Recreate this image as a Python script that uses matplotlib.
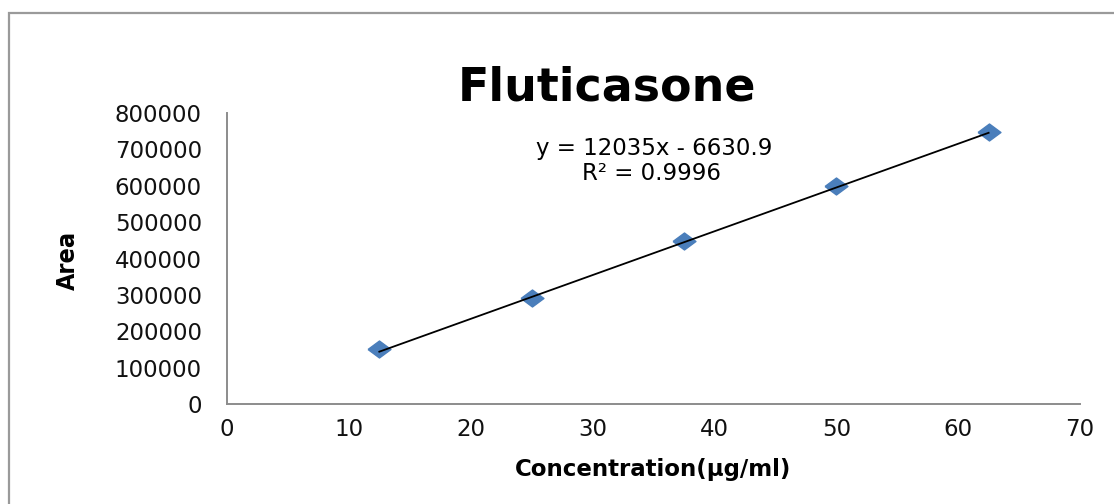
import matplotlib.pyplot as plt
from matplotlib.patches import Rectangle
import numpy as np

# calibration data
conc = [12.5, 25, 37.5, 50, 62.5]
area = [151000, 291000, 448000, 599000, 748000]
slope = 12035
intercept = -6630.9
r2 = 0.9996
xticks = [0, 10, 20, 30, 40, 50, 60, 70]
yticks = [0, 100000, 200000, 300000, 400000, 500000, 600000, 700000, 800000]

plt.rcParams['font.family'] = ['DejaVu Sans']

fig = plt.figure(figsize=(11.14, 5.04), dpi=100)
fig.patches.append(Rectangle((9 / 1114, -0.1), 1.2, 1.1 - 13 / 504, transform=fig.transFigure,
                             fill=False, edgecolor='#9a9a9a', linewidth=1.6))

ax = fig.add_axes([227 / 1114, 100 / 504, 853 / 1114, 291 / 504])

diamond = [(-1, 0), (0, 0.74), (1, 0), (0, -0.74), (-1, 0)]
ax.plot(conc, area, linestyle='none', marker=diamond, markersize=16.5,
        color='#4a7ebb', zorder=2)

xfit = np.array([conc[0], conc[-1]])
ax.plot(xfit, slope * xfit + intercept, color='black', linewidth=1.3, zorder=3)

ax.set_xlim(0, 70)
ax.set_ylim(0, 800000)
ax.set_xticks(xticks)
ax.set_yticks(yticks)
ax.set_xticklabels([str(v) for v in xticks])
ax.set_yticklabels([str(v) for v in yticks])
ax.tick_params(length=0, labelsize=16.5, colors='#111111')
ax.tick_params(axis='y', pad=18)
ax.tick_params(axis='x', pad=10)

for s in ['top', 'right']:
    ax.spines[s].set_visible(False)
for s in ['left', 'bottom']:
    ax.spines[s].set_color('#8c8c8c')
    ax.spines[s].set_linewidth(1.4)

ax.set_xlabel('Concentration(µg/ml)', fontsize=16.5, fontweight='bold', labelpad=12)
fig.text(68 / 1114, 1 - 260 / 504, 'Area', rotation=90, fontsize=18, fontweight='bold',
         fontstretch='condensed', ha='center', va='center')

fig.text(607 / 1114, 1 - 88 / 504, 'Fluticasone', fontsize=33, fontweight='bold',
         ha='center', va='center')
fig.text(654 / 1114, 1 - 148 / 504, f'y = {slope}x - {-intercept}', fontsize=16.5,
         ha='center', va='center')
fig.text(652 / 1114, 1 - 173 / 504, f'R² = {r2}', fontsize=16.5, ha='center', va='center')

fig.savefig('out.png', dpi=100)
